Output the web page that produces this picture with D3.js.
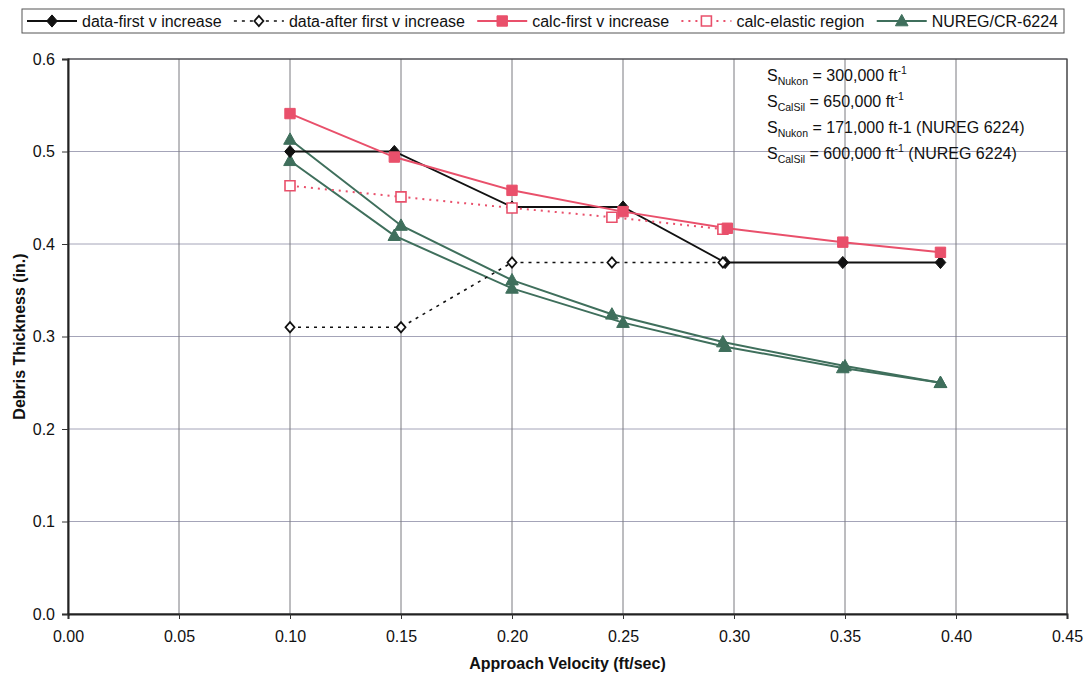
<!DOCTYPE html>
<html><head><meta charset="utf-8">
<script src="https://cdn.jsdelivr.net/npm/d3@7"></script>
<style>
html,body{margin:0;padding:0;background:#fff;}
svg{display:block;font-family:"Liberation Sans",Arial,sans-serif;}
</style></head>
<body>
<svg id="chart" width="1087" height="679"></svg>
<script>
// ---- data ----
const xTicks = [0.00,0.05,0.10,0.15,0.20,0.25,0.30,0.35,0.40,0.45];
const yTicks = [0.0,0.1,0.2,0.3,0.4,0.5,0.6];

const dataFirstX = [0.100,0.147,0.200,0.250,0.296,0.349,0.393];
const dataFirstY = [0.500,0.500,0.440,0.440,0.380,0.380,0.380];

const dataAfterX = [0.100,0.150,0.200,0.245,0.295];
const dataAfterY = [0.310,0.310,0.380,0.380,0.380];

const calcFirstX = [0.100,0.147,0.200,0.250,0.297,0.349,0.393];
const calcFirstY = [0.541,0.494,0.458,0.435,0.417,0.402,0.391];

const calcElasticX = [0.100,0.150,0.200,0.245,0.295];
const calcElasticY = [0.463,0.451,0.439,0.429,0.416];

const nuregAX = [0.100,0.150,0.200,0.245,0.295,0.350,0.393];
const nuregAY = [0.513,0.420,0.361,0.324,0.294,0.268,0.250];

const nuregBX = [0.100,0.147,0.200,0.250,0.296,0.349,0.393];
const nuregBY = [0.490,0.409,0.352,0.315,0.289,0.266,0.250];

const legendLabels = ["data-first v increase","data-after first v increase","calc-first v increase","calc-elastic region","NUREG/CR-6224"];

const annotLines = [
  {s:"S", sub:"Nukon", main:" = 300,000 ft", sup:"-1", tail:""},
  {s:"S", sub:"CalSil", main:" = 650,000 ft", sup:"-1", tail:""},
  {s:"S", sub:"Nukon", main:" = 171,000 ft-1 (NUREG 6224)", sup:"", tail:""},
  {s:"S", sub:"CalSil", main:" = 600,000 ft", sup:"-1", tail:" (NUREG 6224)"}
];

// ---- layout ----
const m = {left:68, right:1067, top:59, bottom:614};
const svg = d3.select("#chart");
const x = d3.scaleLinear().domain([0,0.45]).range([m.left,m.right]);
const y = d3.scaleLinear().domain([0,0.6]).range([m.bottom,m.top]);

const BLACK="#111", PINK="#e9506b", GREEN="#3f6f5c";

// grid
svg.append("g").selectAll("line").data(yTicks.filter(d=>d>0)).join("line")
  .attr("x1",m.left).attr("x2",m.right)
  .attr("y1",d=>y(d)).attr("y2",d=>y(d))
  .attr("stroke","#a4a4b8").attr("stroke-width",1);
svg.append("g").selectAll("line").data(xTicks.filter(d=>d>0)).join("line")
  .attr("y1",m.top).attr("y2",m.bottom)
  .attr("x1",d=>x(d)).attr("x2",d=>x(d))
  .attr("stroke","#7a7a80").attr("stroke-width",1);

// frame
svg.append("rect").attr("x",m.left).attr("y",m.top)
  .attr("width",m.right-m.left).attr("height",m.bottom-m.top)
  .attr("fill","none").attr("stroke","#444").attr("stroke-width",1.2);

// axes
const xAxis = d3.axisBottom(x).tickValues(xTicks).tickFormat(d3.format(".2f")).tickSize(5).tickPadding(12);
const yAxis = d3.axisLeft(y).tickValues(yTicks).tickFormat(d3.format(".1f")).tickSize(6).tickPadding(7);
const gx = svg.append("g").attr("transform",`translate(0,${m.bottom})`).call(xAxis);
const gy = svg.append("g").attr("transform",`translate(${m.left},0)`).call(yAxis);
[gx,gy].forEach(g=>{
  g.select(".domain").attr("stroke","#222").attr("stroke-width",2);
  g.selectAll(".tick line").attr("stroke","#333");
  g.selectAll(".tick text").attr("fill","#111").attr("font-size",16)
   .attr("font-family","'Liberation Sans',Arial,sans-serif");
});

// axis titles
svg.append("text").attr("x",(m.left+m.right)/2).attr("y",669)
  .attr("text-anchor","middle").attr("font-size",16).attr("font-weight","bold").attr("fill","#111")
  .text("Approach Velocity (ft/sec)");
svg.append("text").attr("transform",`translate(25,${(m.top+m.bottom)/2}) rotate(-90)`)
  .attr("text-anchor","middle").attr("font-size",16).attr("font-weight","bold").attr("fill","#111")
  .text("Debris Thickness (in.)");

// symbol paths
function diamond(r){return `M0,${-r*1.15}L${r},0L0,${r*1.15}L${-r},0Z`;}
function square(r){return `M${-r},${-r}H${r}V${r}H${-r}Z`;}
function triangle(r){return `M0,${-r*1.1}L${r*1.05},${r*0.8}L${-r*1.05},${r*0.8}Z`;}

const series = [
  {xs:nuregAX, ys:nuregAY, color:GREEN, width:2, dash:null, sym:triangle, r:6, fill:GREEN},
  {xs:nuregBX, ys:nuregBY, color:GREEN, width:2, dash:null, sym:triangle, r:6, fill:GREEN},
  {xs:dataFirstX, ys:dataFirstY, color:BLACK, width:1.8, dash:null, sym:diamond, r:5.3, fill:BLACK},
  {xs:dataAfterX, ys:dataAfterY, color:BLACK, width:1.6, dash:"3,5", sym:diamond, r:4.5, fill:"#fff", sw:1.8},
  {xs:calcElasticX, ys:calcElasticY, color:PINK, width:2, dash:"2,5", sym:square, r:5, fill:"#fff", sw:1.6},
  {xs:calcFirstX, ys:calcFirstY, color:PINK, width:2, dash:null, sym:square, r:5.2, fill:PINK}
];

const line = d3.line().x(d=>x(d[0])).y(d=>y(d[1]));
series.forEach(s=>{
  const pts = s.xs.map((v,i)=>[v,s.ys[i]]);
  svg.append("path").datum(pts).attr("d",line)
    .attr("fill","none").attr("stroke",s.color).attr("stroke-width",s.width)
    .attr("stroke-dasharray",s.dash);
});
series.forEach(s=>{
  const pts = s.xs.map((v,i)=>[v,s.ys[i]]);
  svg.append("g").selectAll("path").data(pts).join("path")
    .attr("transform",d=>`translate(${x(d[0])},${y(d[1])})`)
    .attr("d",s.sym(s.r))
    .attr("fill",s.fill).attr("stroke",s.color).attr("stroke-width",s.sw||1);
});

// annotation
const ann = svg.append("g");
annotLines.forEach((l,i)=>{
  const t = ann.append("text").attr("x",767).attr("y",81+i*26)
    .attr("font-size",16).attr("fill","#111");
  t.append("tspan").text(l.s);
  t.append("tspan").attr("font-size",10.5).attr("dy",4).text(l.sub);
  t.append("tspan").attr("dy",-4).text(l.main);
  if(l.sup){
    t.append("tspan").attr("font-size",10.5).attr("dy",-7).text(l.sup);
    if(l.tail){ t.append("tspan").attr("dy",7).text(l.tail); }
  }
});

// legend
const leg = svg.append("g");
leg.append("rect").attr("x",22).attr("y",9).attr("width",1042).attr("height",24)
  .attr("fill","#fff").attr("stroke","#555").attr("stroke-width",1);
const legSeries = [series[2],series[3],series[5],series[4],series[0]];
const items = legendLabels.map((lab,i)=>{
  const g = leg.append("g");
  const s = legSeries[i];
  g.append("line").attr("x1",0).attr("x2",50).attr("y1",0).attr("y2",0)
    .attr("stroke",s.color).attr("stroke-width",s.width).attr("stroke-dasharray",s.dash);
  g.append("path").attr("transform","translate(25,0)").attr("d",s.sym(s.r))
    .attr("fill",s.fill).attr("stroke",s.color).attr("stroke-width",s.sw||1);
  const tx = g.append("text").attr("x",55).attr("y",6).attr("font-size",16).attr("fill","#111").text(lab);
  return {g, w:55+tx.node().getComputedTextLength()};
});
const startX = 27, endX = 1058;
const total = d3.sum(items,d=>d.w);
const gap = (endX-startX-total)/(items.length-1);
let cx = startX;
items.forEach(it=>{ it.g.attr("transform",`translate(${cx},21)`); cx += it.w+gap; });
</script>
</body></html>
